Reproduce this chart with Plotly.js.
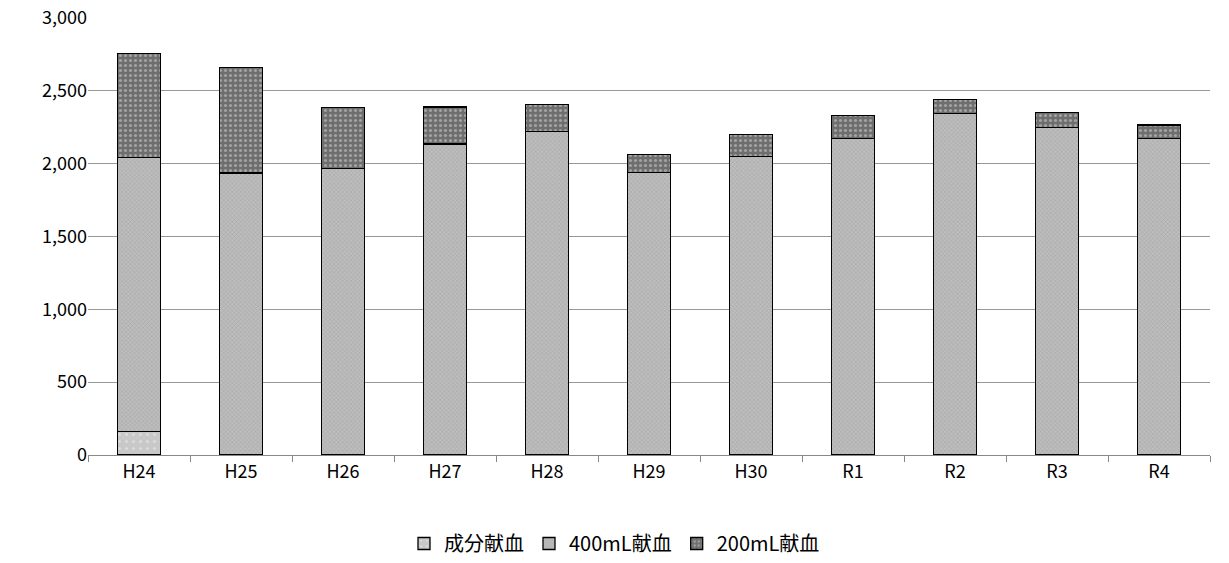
<!DOCTYPE html>
<html><head><meta charset="utf-8">
<script src="https://cdn.plot.ly/plotly-3.0.1.min.js"></script>
<style>body{margin:0;background:#fff}</style></head>
<body><div id="c" style="width:1229px;height:563px"></div>
<script>
const categories=["H24","H25","H26","H27","H28","H29","H30","R1","R2","R3","R4"];
const seibun=[160,null,null,null,null,null,null,null,null,null,null];
const ml400=[1880,1935,1965,2135,2220,1940,2050,2175,2345,2250,2175];
const ml200=[715,727,420,255,185,125,150,155,95,100,90];
const names=["成分献血","400mL献血","200mL献血"];
const font={family:"Noto Sans CJK JP, sans-serif",size:18,color:"#000"};
const mk=(bg,fg,shape,size,sol)=>({color:bg,line:{color:"#000",width:1.3},pattern:{shape:shape,bgcolor:bg,fgcolor:fg,size:size,solidity:sol,fillmode:"overlay"}});
const data=[
 {type:"bar",name:names[0],x:categories,y:seibun,marker:mk("#c8c8c8","#eeeeee",".",7,0.15)},
 {type:"bar",name:names[1],x:categories,y:ml400,marker:mk("#bdbdbd","#8a8a8a","x",3,0.3)},
 {type:"bar",name:names[2],x:categories,y:ml200,marker:mk("#6e6e6e","#d8d8d8",".",5,0.3)}
];
const layout={barmode:"stack",bargap:0.58,font:font,paper_bgcolor:"#fff",plot_bgcolor:"#fff",
 margin:{l:88,r:19,t:18,b:108},
 xaxis:{showline:true,linecolor:"#888",ticks:"outside",tickson:"boundaries",ticklen:6,tickcolor:"#888",tickfont:font,automargin:false},
 yaxis:{range:[0,3000],dtick:500,tickformat:",d",gridcolor:"#999",showline:false,ticks:"",tickfont:font,zeroline:false,automargin:false},
 legend:{orientation:"h",x:0.5,xanchor:"center",xref:"container",yref:"container",y:0.0,yanchor:"bottom",font:{family:font.family,size:20,color:"#000"},traceorder:"normal",itemwidth:30,tracegroupgap:0},
 showlegend:true};
Plotly.newPlot("c",data,layout,{displayModeBar:false});
</script></body></html>
